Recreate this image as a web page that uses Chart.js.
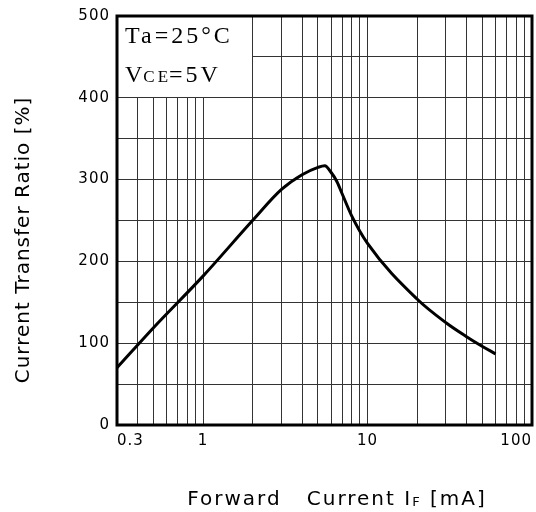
<!DOCTYPE html>
<html>
<head>
<meta charset="utf-8">
<script src="https://cdn.jsdelivr.net/npm/chart.js@4"></script>
<style>
html, body { margin: 0; padding: 0; background: #fff; }
</style>
</head>
<body>
<canvas id="ctrChart" width="536" height="512"></canvas>
<script>
// forward current IF [mA] vs current transfer ratio [%]
const forwardCurrent = [0.3, 0.5, 1, 2, 3, 4, 5, 5.5, 6, 6.5, 7, 8, 10, 20, 30, 40, 50, 60];
const ctrValues = [70, 119, 182, 250, 288, 306, 315, 317, 309, 298, 283, 256, 222, 154, 125, 108, 96, 87];

const xGridValues = [0.3, 0.4, 0.5, 0.6, 0.7, 0.8, 0.9, 1, 2, 3, 4, 5, 6, 7, 8, 9, 10, 20, 30, 40, 50, 60, 70, 80, 90, 100];
const xTickLabels = [0.3, 1, 10, 100];
const yGridValues = [0, 50, 100, 150, 200, 250, 300, 350, 400, 450, 500];
const yTickLabels = [0, 100, 200, 300, 400, 500];

const labelFont = 'DejaVu Sans';

// draws text piece by piece, returns x after the text
function drawPiece(ctx, text, x, y, font) {
    ctx.font = font;
    ctx.fillText(text, x, y);
    return x + ctx.measureText(text).width;
}

const frameAndNotes = {
    id: 'frameAndNotes',
    beforeDraw(chart) {
        chart.ctx.letterSpacing = '1px';
    },
    beforeDatasetsDraw(chart) {
        const { ctx, chartArea: a, scales: { x, y } } = chart;
        // white note box over the grid in the upper-left corner
        const boxRight = Math.floor(x.getPixelForValue(2));
        const boxBottom = Math.floor(y.getPixelForValue(400));
        ctx.save();
        ctx.fillStyle = '#fff';
        ctx.fillRect(a.left, a.top, boxRight - a.left, boxBottom - a.top);

        ctx.fillStyle = '#000';
        ctx.textAlign = 'left';
        ctx.textBaseline = 'alphabetic';
        ctx.letterSpacing = '3px';
        const big = '24px "Liberation Serif"';
        const small = '17px "Liberation Serif"';
        drawPiece(ctx, 'Ta=25°C', a.left + 8, a.top + 27, big);
        let cx = drawPiece(ctx, 'V', a.left + 8, a.top + 66, big);
        cx = drawPiece(ctx, 'CE', cx - 2, a.top + 66, small);
        cx = drawPiece(ctx, '=5V', cx - 2, a.top + 66, big);
        ctx.restore();
    },
    afterDraw(chart) {
        const { ctx, chartArea: a } = chart;
        ctx.save();
        // thick frame
        ctx.strokeStyle = '#000';
        ctx.lineWidth = 3;
        ctx.strokeRect(a.left, a.top, a.right - a.left, a.bottom - a.top);

        ctx.fillStyle = '#000';
        // y axis title
        ctx.save();
        ctx.translate(24, 240);
        ctx.rotate(-Math.PI / 2);
        ctx.textAlign = 'center';
        ctx.textBaseline = 'middle';
        ctx.letterSpacing = '1px';
        ctx.font = '20px "' + labelFont + '"';
        ctx.fillText('Current Transfer Ratio [%]', 0, 0);
        ctx.restore();

        // x axis title with subscript
        ctx.textAlign = 'left';
        ctx.textBaseline = 'alphabetic';
        ctx.letterSpacing = '2px';
        const main = '20px "' + labelFont + '"';
        const sub = '13px "' + labelFont + '"';
        ctx.font = main;
        const w1 = ctx.measureText('Forward   Current I').width;
        const w3 = ctx.measureText(' [mA]').width;
        ctx.font = sub;
        const w2 = ctx.measureText('F').width;
        let tx = 337 - (w1 + w2 + w3) / 2;
        const base = 505;
        tx = drawPiece(ctx, 'Forward   Current I', tx, base, main);
        tx = drawPiece(ctx, 'F', tx, base + 1, sub);
        drawPiece(ctx, ' [mA]', tx, base, main);
        ctx.restore();
    }
};

const ctx = document.getElementById('ctrChart').getContext('2d');

const data = {
    datasets: [
        {
            label: 'CTR',
            data: forwardCurrent.map((v, i) => ({ x: v, y: ctrValues[i] })),
            borderColor: '#000',
            borderWidth: 3,
            pointRadius: 0,
            fill: false,
            cubicInterpolationMode: 'monotone'
        }
    ]
};

const config = {
    type: 'line',
    data: data,
    options: {
        responsive: false,
        animation: false,
        layout: {
            padding: { top: 15, right: 4, left: 0, bottom: 0 }
        },
        plugins: {
            legend: { display: false },
            tooltip: { enabled: false }
        },
        scales: {
            x: {
                type: 'logarithmic',
                min: 0.3,
                max: 100,
                afterBuildTicks: (scale) => {
                    scale.ticks = xGridValues.map(v => ({ value: v }));
                },
                afterFit: (scale) => {
                    scale.height = 87;
                    scale.paddingLeft = 0;
                    scale.paddingRight = 0;
                },
                grid: { color: '#333', lineWidth: 1, drawTicks: false },
                border: { display: false },
                ticks: {
                    autoSkip: false,
                    maxRotation: 0,
                    align: 'inner',
                    padding: 7,
                    color: '#000',
                    font: { family: labelFont, size: 15 },
                    callback: (v) => xTickLabels.includes(v) ? String(v) : ''
                }
            },
            y: {
                min: 0,
                max: 500,
                afterBuildTicks: (scale) => {
                    scale.ticks = yGridValues.map(v => ({ value: v }));
                },
                afterFit: (scale) => { scale.width = 117; },
                grid: { color: '#333', lineWidth: 1, drawTicks: false },
                border: { display: false },
                ticks: {
                    padding: 7,
                    color: '#000',
                    font: { family: labelFont, size: 15 },
                    callback: (v) => yTickLabels.includes(v) ? String(v) : ''
                }
            }
        }
    },
    plugins: [frameAndNotes]
};

const ctrChart = new Chart(ctx, config);
</script>
</body>
</html>
